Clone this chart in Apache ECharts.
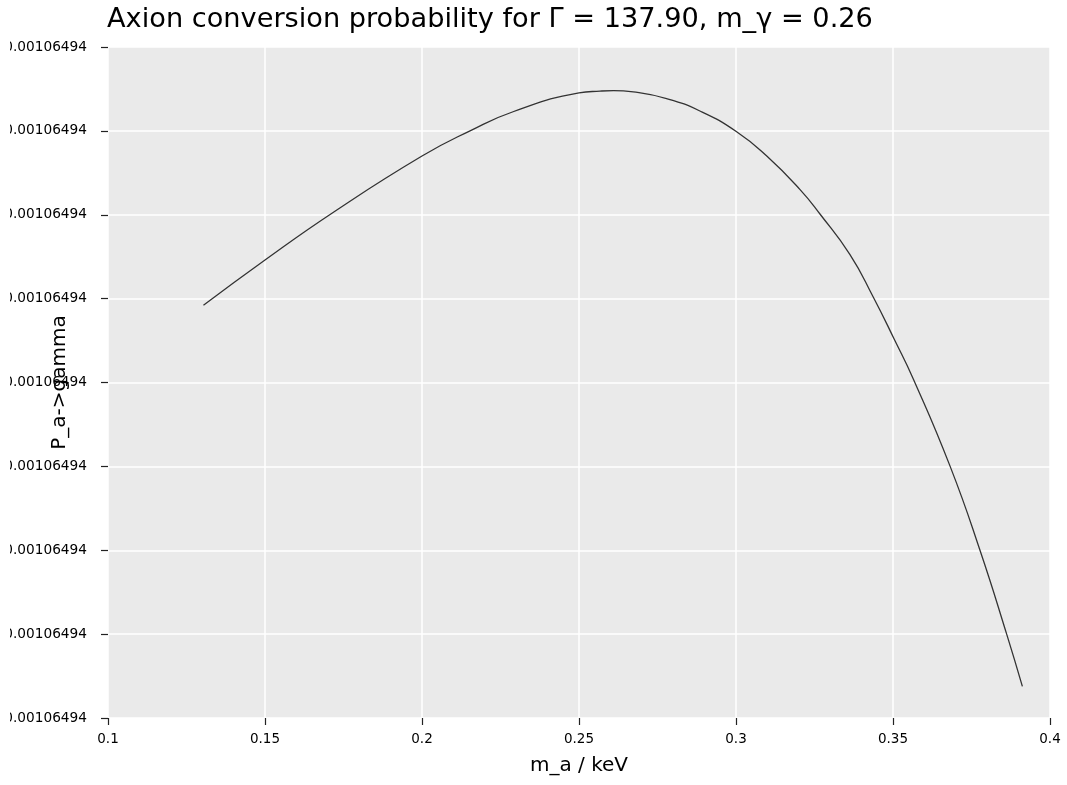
<!DOCTYPE html>
<html>
<head>
<meta charset="utf-8">
<script src="https://cdn.jsdelivr.net/npm/echarts@6/dist/echarts.min.js"></script>
<style>
html,body{margin:0;padding:0;background:#fff;}
#chart{width:1067px;height:785px;}
</style>
</head>
<body>
<div id="chart"></div>
<script>
// Axion mass m_a (keV)
const mass = [0.1304, 0.15, 0.1718, 0.2, 0.2153, 0.229, 0.25, 0.2567, 0.261, 0.2673, 0.2779, 0.2885,
  0.3002, 0.3098, 0.3204, 0.3268, 0.3363, 0.3437, 0.3504, 0.3565, 0.3682, 0.3777, 0.3862, 0.3912];
// P_a->gamma, expressed as offset above the base value in units of one tick step (all ticks print the same base)
const probOffset = [4.92, 5.46, 6.03, 6.70, 7.00, 7.228, 7.452, 7.474, 7.48, 7.464, 7.385, 7.237,
  6.99, 6.70, 6.30, 6.006, 5.525, 5.02, 4.516, 4.04, 3.00, 2.00, 1.00, 0.377];
const yTickLabel = '0.00106494';
const xTicks = [0.1, 0.15, 0.2, 0.25, 0.3, 0.35, 0.4];

const titleText = 'Axion conversion probability for \u0393 = 137.90, m_\u03b3 = 0.26';
const FONT = 'DejaVu Sans';

const chart = echarts.init(document.getElementById('chart'), null, {renderer: 'canvas'});
chart.setOption({
  backgroundColor: '#ffffff',
  animation: false,
  title: {
    text: titleText,
    left: 107,
    top: 6,
    padding: 0,
    textStyle: {fontFamily: FONT, fontSize: 27.2, fontWeight: 'normal', color: '#000'}
  },
  grid: {
    left: 108, right: 17, top: 47, bottom: 67,
    containLabel: false,
    outerBoundsMode: 'none',
    show: true, backgroundColor: '#EAEAEA', borderWidth: 0
  },
  xAxis: {
    type: 'value',
    min: xTicks[0], max: xTicks[xTicks.length - 1], interval: 0.05,
    name: 'm_a / keV',
    nameLocation: 'middle',
    nameGap: 38,
    nameMoveOverlap: false,
    nameTextStyle: {fontFamily: FONT, fontSize: 20, color: '#000'},
    axisLine: {show: false},
    axisTick: {show: true, inside: false, length: 7, lineStyle: {color: '#222', width: 1.2}},
    axisLabel: {fontFamily: FONT, fontSize: 13.5, color: '#000', margin: 14,
      formatter: v => String(+v.toFixed(4))},
    splitLine: {show: true, lineStyle: {color: '#ffffff', width: 1.5}}
  },
  yAxis: {
    type: 'value',
    min: 0, max: 8, interval: 1,
    name: 'P_a->gamma',
    nameLocation: 'middle',
    nameGap: 38,
    nameMoveOverlap: false,
    nameTextStyle: {fontFamily: FONT, fontSize: 20, color: '#000'},
    axisLine: {show: false},
    axisTick: {show: true, inside: false, length: 7, lineStyle: {color: '#222', width: 1.2}},
    axisLabel: {fontFamily: FONT, fontSize: 13.7, color: '#000', margin: 21,
      formatter: () => yTickLabel},
    splitLine: {show: true, lineStyle: {color: '#ffffff', width: 1.5}}
  },
  graphic: [{
    // the reference figure is cropped at its left edge, cutting the first digit of the y labels
    type: 'rect', left: 0, top: 30, z: 100,
    shape: {width: 10, height: 710},
    style: {fill: '#ffffff'}
  }],
  series: [{
    type: 'line',
    data: mass.map((m, i) => [m, probOffset[i]]),
    showSymbol: false,
    smooth: 0.5,
    lineStyle: {color: '#333333', width: 1.3},
    clip: true
  }]
});
</script>
</body>
</html>
